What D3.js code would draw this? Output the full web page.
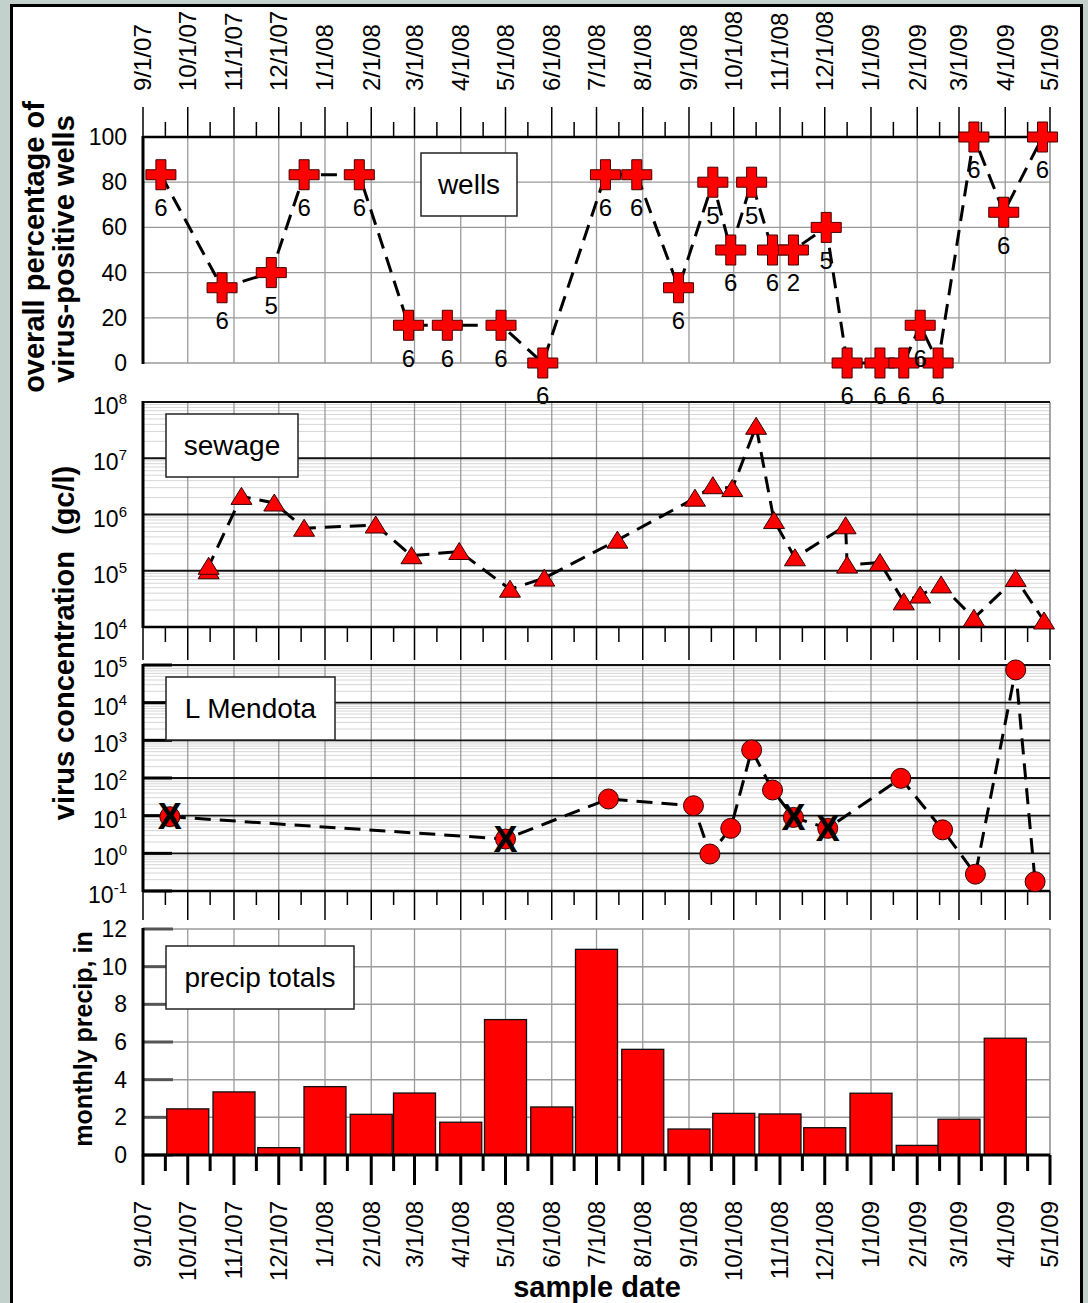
<!DOCTYPE html>
<html>
<head>
<meta charset="utf-8">
<script src="https://cdn.jsdelivr.net/npm/d3@7"></script>
<style>
  body { margin: 0; background: #c2d1cb; }
  text { font-family: "Liberation Sans", Arial, sans-serif; fill: #000; }
</style>
</head>
<body>
<div id="chart"></div>
<script>
// ---- data ----
var wellDates = ["2007-09-13","2007-10-24","2007-11-26","2007-12-18","2008-01-24","2008-02-26","2008-03-23",
  "2008-04-28","2008-05-26","2008-07-07","2008-07-28","2008-08-25","2008-09-17","2008-09-29","2008-10-13",
  "2008-10-27","2008-11-10","2008-12-02","2008-12-16","2009-01-07","2009-01-23","2009-02-03","2009-02-15",
  "2009-03-11","2009-03-31","2009-04-26"];
var wellPct = [83.3, 33.3, 40, 83.3, 83.3, 16.7, 16.7, 16.7, 0, 83.3, 83.3, 33.3, 80, 50, 80,
  50, 50, 60, 0, 0, 0, 16.7, 0, 100, 66.7, 100];
var wellN = [6, 6, 5, 6, 6, 6, 6, 6, 6, 6, 6, 6, 5, 6, 5, 6, 2, 5, 6, 6, 6, 6, 6, 6, 6, 6];

var sewageDates = ["2007-10-15","2007-10-15","2007-11-06","2007-11-28","2007-12-18","2008-02-04","2008-02-28",
  "2008-03-31","2008-05-04","2008-05-27","2008-07-15","2008-09-05","2008-09-17","2008-09-30","2008-10-16",
  "2008-10-28","2008-11-11","2008-12-15","2008-12-16","2009-01-07","2009-01-23","2009-02-03","2009-02-17",
  "2009-03-11","2009-04-08","2009-04-27"];
var sewageConc = [1.0e5, 1.2e5, 2.1e6, 1.6e6, 5.7e5, 6.5e5, 1.85e5, 2.2e5, 4.7e4, 7.4e4, 3.5e5, 1.95e6,
  3.25e6, 2.9e6, 3.7e7, 7.8e5, 1.7e5, 6.3e5, 1.26e5, 1.4e5, 2.8e4, 3.7e4, 5.6e4, 1.43e4, 7.3e4, 1.28e4];

var mendotaDates = ["2007-09-19","2008-05-01","2008-07-09","2008-09-04","2008-09-15","2008-09-29","2008-10-13",
  "2008-10-27","2008-11-10","2008-12-03","2009-01-21","2009-02-18","2009-03-12","2009-04-08","2009-04-21"];
var mendotaConc = [9.4, 2.4, 27.7, 18.4, 0.96, 4.6, 555, 48, 9.0, 4.6, 98, 4.2, 0.28, 7.4e4, 0.177];
var mendotaX = [1, 1, 0, 0, 0, 0, 0, 0, 1, 1, 0, 0, 0, 0, 0];   // marked with an X

var precipMonths = ["2007-10-01","2007-11-01","2007-12-01","2008-01-01","2008-02-01","2008-03-01","2008-04-01",
  "2008-05-01","2008-06-01","2008-07-01","2008-08-01","2008-09-01","2008-10-01","2008-11-01","2008-12-01",
  "2009-01-01","2009-02-01","2009-03-01","2009-04-01"];
var precipInches = [2.45, 3.35, 0.39, 3.63, 2.16, 3.29, 1.74, 7.19, 2.55, 10.92, 5.61, 1.38, 2.21, 2.18,
  1.45, 3.28, 0.51, 1.9, 6.2];

var wellTicks = [0, 20, 40, 60, 80, 100];
var sewageExp = [4, 5, 6, 7, 8];
var mendotaExp = [-1, 0, 1, 2, 3, 4, 5];
var precipTicks = [0, 2, 4, 6, 8, 10, 12];

var parse = d3.timeParse("%Y-%m-%d");
var fmt = d3.timeFormat("%-m/%-d/%y");

var W = 1088, H = 1303;
var svg = d3.select("#chart").append("svg").attr("width", W).attr("height", H);

svg.append("rect").attr("width", W).attr("height", H).attr("fill", "#c2d1cb");
svg.append("rect").attr("x", 11.5).attr("y", 5.5).attr("width", 1070).attr("height", 1320)
  .attr("fill", "#fff").attr("stroke", "#000").attr("stroke-width", 3);

var x = d3.scaleTime().domain([new Date(2007, 8, 1), new Date(2009, 4, 1)]).range([143, 1050]);
var months = d3.timeMonth.range(new Date(2007, 8, 1), new Date(2009, 4, 2));
var mids = months.slice(0, -1).map(function(m) { return new Date(m.getFullYear(), m.getMonth(), 16); });

var yW = d3.scaleLinear().domain([0, 100]).range([363, 137]);
var yS = d3.scaleLog().domain([1e4, 1e8]).range([627, 402]);
var yM = d3.scaleLog().domain([0.1, 1e5]).range([891, 665]);
var yP = d3.scaleLinear().domain([0, 12]).range([1155, 929]);

var gridCol = "#9a9a9a";

function hLine(g, y, col, w) {
  g.append("line").attr("x1", 143).attr("x2", 1050).attr("y1", y).attr("y2", y)
    .attr("stroke", col).attr("stroke-width", w);
}

function vGrid(top, bottom) {
  svg.append("g").selectAll("line").data(months.slice(1)).enter().append("line")
    .attr("x1", function(d) { return x(d); }).attr("x2", function(d) { return x(d); })
    .attr("y1", top).attr("y2", bottom)
    .attr("stroke", gridCol).attr("stroke-width", 1.3);
}

function xTicks(y0, majLen, minLen, w) {
  var g = svg.append("g").attr("stroke", "#000").attr("stroke-width", w);
  g.selectAll(".maj").data(months).enter().append("line")
    .attr("x1", function(d) { return x(d); }).attr("x2", function(d) { return x(d); })
    .attr("y1", y0).attr("y2", y0 + majLen);
  g.selectAll(".min").data(mids).enter().append("line")
    .attr("x1", function(d) { return x(d); }).attr("x2", function(d) { return x(d); })
    .attr("y1", y0).attr("y2", y0 + minLen);
}

function leftAxis(top, bottom) {
  svg.append("line").attr("x1", 143).attr("x2", 143).attr("y1", top - 1).attr("y2", bottom + 1)
    .attr("stroke", "#000").attr("stroke-width", 3);
}

function legendBox(x0, y0, w, h, label) {
  svg.append("rect").attr("x", x0).attr("y", y0).attr("width", w).attr("height", h)
    .attr("fill", "#fff").attr("stroke", "#222").attr("stroke-width", 1.5);
  svg.append("text").attr("x", x0 + w / 2).attr("y", y0 + h / 2).attr("dy", "0.35em")
    .attr("text-anchor", "middle").style("font-size", "28px").text(label);
}

function logLabels(scale, exps) {
  var g = svg.append("g");
  exps.forEach(function(e) {
    var t = g.append("text").attr("x", 127).attr("y", scale(Math.pow(10, e)) + 12)
      .attr("text-anchor", "end");
    t.append("tspan").style("font-size", "23px").text("10");
    t.append("tspan").attr("dy", -10).style("font-size", "15px").text(e);
  });
}

var dashed = { stroke: "#000", width: 3, dash: "16,9" };

// ================= wells =================
var wells = wellDates.map(function(d, i) { return { date: parse(d), v: wellPct[i], n: wellN[i] }; });
var gW = svg.append("g");
wellTicks.forEach(function(t) { if (t !== 100) hLine(gW, yW(t), gridCol, 1.3); });
vGrid(137, 363);
svg.append("line").attr("x1", 1050).attr("x2", 1050).attr("y1", 137).attr("y2", 363).attr("stroke", gridCol).attr("stroke-width", 1.3);
hLine(svg, yW(100), "#000", 2.5);
leftAxis(137, 363);
xTicks(137, -30, -15, 1.5);

svg.append("g").selectAll("text").data(wellTicks).enter().append("text")
  .attr("x", 127).attr("y", function(d) { return yW(d); }).attr("dy", "0.35em")
  .attr("text-anchor", "end").style("font-size", "23px").text(function(d) { return d; });

legendBox(421, 153, 96, 63, "wells");

svg.append("path").datum(wells)
  .attr("d", d3.line().x(function(d) { return x(d.date); }).y(function(d) { return yW(d.v); }))
  .attr("fill", "none").attr("stroke", dashed.stroke).attr("stroke-width", dashed.width)
  .attr("stroke-dasharray", dashed.dash);

svg.append("g").selectAll("path").data(wells).enter().append("path")
  .attr("d", "M-5,-15H5V-5H15V5H5V15H-5V5H-15V-5H-5Z")
  .attr("transform", function(d) { return "translate(" + x(d.date) + "," + yW(d.v) + ")"; })
  .attr("fill", "#ff0000").attr("stroke", "#400").attr("stroke-width", 1);

svg.append("g").selectAll("text").data(wells).enter().append("text")
  .attr("x", function(d) { return x(d.date); }).attr("y", function(d) { return yW(d.v) + 33; })
  .attr("dy", "0.35em").attr("text-anchor", "middle").style("font-size", "24px")
  .text(function(d) { return d.n; });

// ================= sewage =================
var sewage = sewageDates.map(function(d, i) { return { date: parse(d), v: sewageConc[i] }; });
var gS = svg.append("g");
d3.range(4, 8).forEach(function(e) {
  for (var k = 2; k <= 9; k++) hLine(gS, yS(k * Math.pow(10, e)), "#d6d6d6", 1);
});
vGrid(402, 627);
svg.append("line").attr("x1", 1050).attr("x2", 1050).attr("y1", 402).attr("y2", 627).attr("stroke", gridCol).attr("stroke-width", 1.3);
[5, 6, 7, 8].forEach(function(e) { hLine(svg, yS(Math.pow(10, e)), "#111", 1.8); });
hLine(svg, yS(1e4), "#000", 2.5);
leftAxis(402, 627);
xTicks(627, 33, 15, 1.5);
logLabels(yS, sewageExp);
legendBox(166, 414, 132, 63, "sewage");

svg.append("path").datum(sewage)
  .attr("d", d3.line().x(function(d) { return x(d.date); }).y(function(d) { return yS(d.v); }))
  .attr("fill", "none").attr("stroke", dashed.stroke).attr("stroke-width", dashed.width)
  .attr("stroke-dasharray", dashed.dash);

svg.append("g").selectAll("path").data(sewage).enter().append("path")
  .attr("d", "M0,-9L10.5,8L-10.5,8Z")
  .attr("transform", function(d) { return "translate(" + x(d.date) + "," + yS(d.v) + ")"; })
  .attr("fill", "#ff0000").attr("stroke", "#300").attr("stroke-width", 1);

// ================= L Mendota =================
var mendota = mendotaDates.map(function(d, i) { return { date: parse(d), v: mendotaConc[i], nd: mendotaX[i] }; });
var gM = svg.append("g");
d3.range(-1, 5).forEach(function(e) {
  for (var k = 2; k <= 9; k++) hLine(gM, yM(k * Math.pow(10, e)), "#d6d6d6", 1);
});
vGrid(665, 891);
svg.append("line").attr("x1", 1050).attr("x2", 1050).attr("y1", 665).attr("y2", 891).attr("stroke", gridCol).attr("stroke-width", 1.3);
mendotaExp.forEach(function(e) { hLine(svg, yM(Math.pow(10, e)), "#111", 1.8); });
hLine(svg, yM(0.1), "#000", 2.5);
svg.append("g").selectAll("line").data(mendotaExp).enter().append("line")
  .attr("x1", 143).attr("x2", 172)
  .attr("y1", function(e) { return yM(Math.pow(10, e)); }).attr("y2", function(e) { return yM(Math.pow(10, e)); })
  .attr("stroke", "#000").attr("stroke-width", 3);
leftAxis(665, 891);
xTicks(891, 29, 14, 1.5);
logLabels(yM, mendotaExp);
legendBox(166, 677, 169, 63, "L Mendota");

svg.append("path").datum(mendota)
  .attr("d", d3.line().x(function(d) { return x(d.date); }).y(function(d) { return yM(d.v); }))
  .attr("fill", "none").attr("stroke", dashed.stroke).attr("stroke-width", dashed.width)
  .attr("stroke-dasharray", dashed.dash);

svg.append("g").selectAll("circle").data(mendota).enter().append("circle")
  .attr("cx", function(d) { return x(d.date); }).attr("cy", function(d) { return yM(d.v); })
  .attr("r", 10).attr("fill", "#ff0000").attr("stroke", "#300").attr("stroke-width", 1);

svg.append("g").selectAll("text").data(mendota.filter(function(d) { return d.nd; })).enter().append("text")
  .attr("x", function(d) { return x(d.date); }).attr("y", function(d) { return yM(d.v); })
  .attr("dy", "0.35em").attr("text-anchor", "middle")
  .style("font-size", "36px").style("font-weight", "bold").text("X");

// ================= precip =================
var precip = precipMonths.map(function(d, i) { return { date: parse(d), v: precipInches[i] }; });
var gP = svg.append("g");
precipTicks.forEach(function(t) { if (t > 0) hLine(gP, yP(t), gridCol, 1.5); });
vGrid(929, 1155);
svg.append("line").attr("x1", 1050).attr("x2", 1050).attr("y1", 929).attr("y2", 1155).attr("stroke", gridCol).attr("stroke-width", 1.3);
svg.append("g").selectAll("line").data(precipTicks).enter().append("line")
  .attr("x1", 143).attr("x2", 173)
  .attr("y1", function(d) { return yP(d); }).attr("y2", function(d) { return yP(d); })
  .attr("stroke", "#555").attr("stroke-width", 3);

var barW = 42;
svg.append("g").selectAll("rect").data(precip).enter().append("rect")
  .attr("x", function(d) { return x(d.date) - barW / 2; }).attr("width", barW)
  .attr("y", function(d) { return yP(d.v); }).attr("height", function(d) { return yP(0) - yP(d.v); })
  .attr("fill", "#ff0000").attr("stroke", "#111").attr("stroke-width", 1.3);

hLine(svg, yP(0), "#000", 3);
leftAxis(929, 1155);
xTicks(1155, 30, 16, 3);

svg.append("g").selectAll("text").data(precipTicks).enter().append("text")
  .attr("x", 127).attr("y", function(d) { return yP(d); }).attr("dy", "0.35em")
  .attr("text-anchor", "end").style("font-size", "23px").text(function(d) { return d; });

legendBox(166, 946, 188, 63, "precip totals");

// ================= date labels =================
svg.append("g").selectAll("text").data(months).enter().append("text")
  .attr("transform", function(d) { return "translate(" + x(d) + ",91) rotate(-90)"; })
  .attr("dy", "0.35em").attr("text-anchor", "start").style("font-size", "24px")
  .text(function(d) { return fmt(d); });

svg.append("g").selectAll("text").data(months).enter().append("text")
  .attr("transform", function(d) { return "translate(" + x(d) + ",1201) rotate(-90)"; })
  .attr("dy", "0.35em").attr("text-anchor", "end").style("font-size", "24px")
  .text(function(d) { return fmt(d); });

// ================= axis titles =================
function vTitle(tx, ty, size, label) {
  svg.append("text").attr("transform", "translate(" + tx + "," + ty + ") rotate(-90)")
    .attr("text-anchor", "middle").style("font-size", size + "px").style("font-weight", "bold")
    .style("white-space", "pre").text(label);
}
vTitle(44, 247, 29, "overall percentage of");
vTitle(74, 249, 29, "virus-positive wells");
vTitle(74, 643, 29, "virus concentration  (gc/l)");
vTitle(92, 1039, 25, "monthly precip, in");

svg.append("text").attr("x", 597).attr("y", 1297).attr("text-anchor", "middle")
  .style("font-size", "29px").style("font-weight", "bold").text("sample date");
</script>
</body>
</html>
